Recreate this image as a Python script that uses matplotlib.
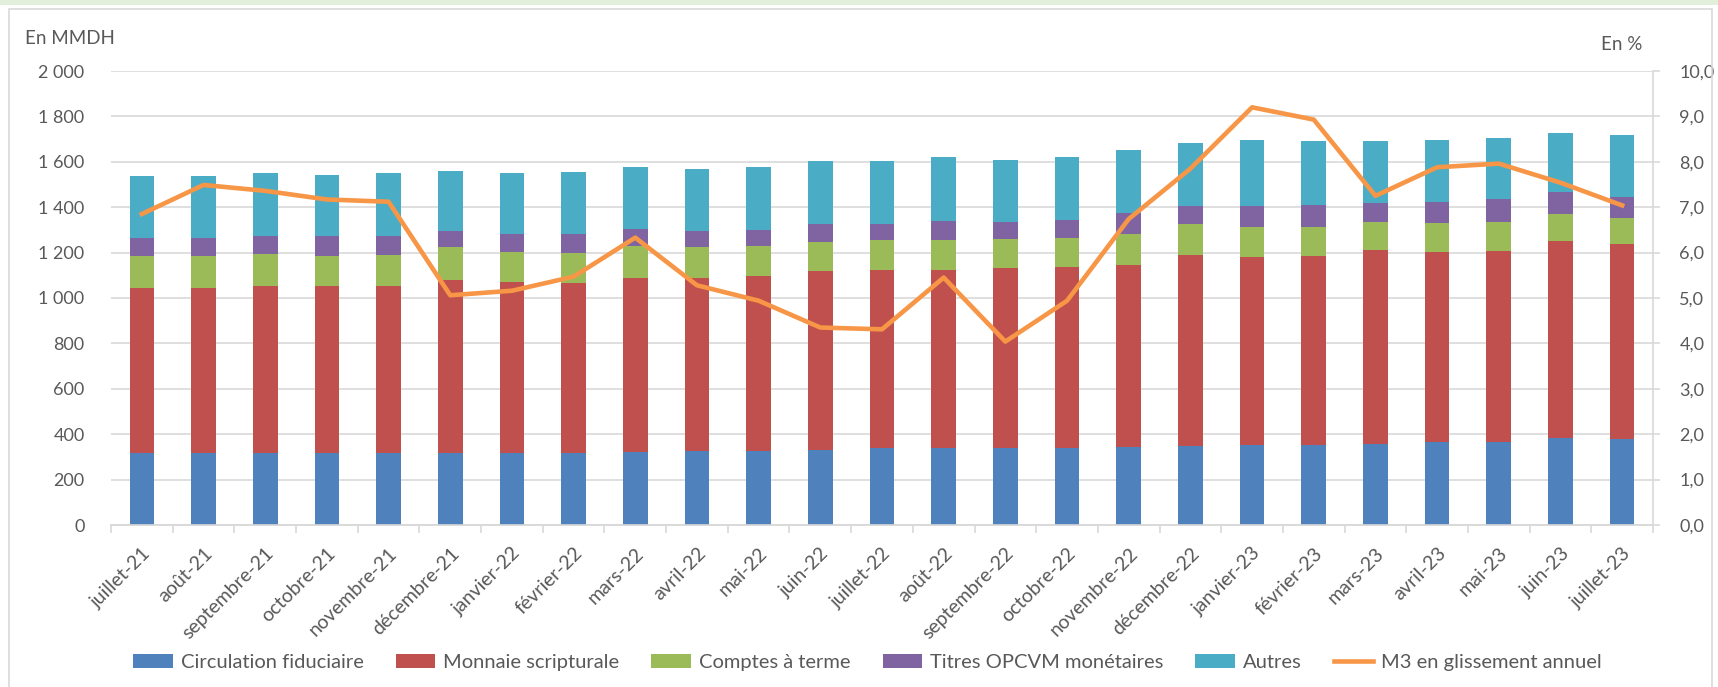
import matplotlib
matplotlib.use("Agg")
import matplotlib.pyplot as plt
from matplotlib.patches import Rectangle, Patch
from matplotlib.lines import Line2D
from matplotlib.ticker import FuncFormatter

plt.rcParams['font.family'] = ['Lato', 'DejaVu Sans']

months = ["juillet-21", "août-21", "septembre-21", "octobre-21", "novembre-21", "décembre-21",
          "janvier-22", "février-22", "mars-22", "avril-22", "mai-22", "juin-22", "juillet-22",
          "août-22", "septembre-22", "octobre-22", "novembre-22", "décembre-22", "janvier-23",
          "février-23", "mars-23", "avril-23", "mai-23", "juin-23", "juillet-23"]

circulation = [317, 317, 317, 317, 317, 317, 317, 317, 321, 326, 326, 330, 339, 339, 339, 339,
               343, 348, 352, 352, 357, 365, 365, 383, 378]
monnaie = [728, 728, 738, 734, 734, 763, 754, 751, 769, 764, 769, 788, 783, 783, 792, 797,
           802, 842, 829, 834, 853, 838, 843, 870, 860]
comptes = [138, 141, 139, 135, 139, 145, 132, 132, 141, 136, 136, 130, 135, 135, 130, 130,
           135, 137, 130, 125, 124, 127, 126, 117, 115]
opcvm = [80, 80, 80, 85, 84, 69, 79, 82, 73, 67, 68, 78, 69, 82, 73, 77,
         95, 80, 95, 99, 85, 93, 100, 96, 94]
autres = [276, 273, 278, 272, 278, 267, 270, 274, 274, 276, 279, 278, 278, 280, 275, 276,
          279, 275, 289, 281, 272, 272, 271, 261, 269]
m3_yoy = [6.85, 7.49, 7.36, 7.17, 7.12, 5.06, 5.16, 5.47, 6.33, 5.28, 4.94, 4.35, 4.31,
          5.45, 4.04, 4.94, 6.74, 7.85, 9.20, 8.93, 7.25, 7.88, 7.96, 7.54, 7.04]

series_names = ["Circulation fiduciaire", "Monnaie scripturale", "Comptes à terme",
                "Titres OPCVM monétaires", "Autres"]
line_name = "M3 en glissement annuel"
colors = ["#4F81BD", "#C0504D", "#9BBB59", "#8064A2", "#4BACC6"]
line_color = "#F79646"
text_color = "#595959"
grid_color = "#D9D9D9"

W, H = 1718, 687
fig = plt.figure(figsize=(W / 100, H / 100), dpi=100)

# decorative frame
fig.patches.append(Rectangle((0, 1 - 5 / H), 1, 5 / H, transform=fig.transFigure,
                             facecolor="#E2EFDA", edgecolor="none", zorder=0))
fig.patches.append(Rectangle((9 / W, -0.01), (1712 - 9) / W, 1 - 9 / H + 0.01,
                             transform=fig.transFigure, facecolor="none",
                             edgecolor=grid_color, linewidth=1.2, zorder=0))

left, right = 111 / W, 1653 / W
bottom, top = 1 - 525 / H, 1 - 71 / H
ax = fig.add_axes([left, bottom, right - left, top - bottom])
ax2 = ax.twinx()

x = list(range(len(months)))
bottoms = [0] * len(months)
for vals, col, name in zip([circulation, monnaie, comptes, opcvm, autres], colors, series_names):
    ax.bar(x, vals, width=0.4, bottom=bottoms, color=col, label=name, zorder=3)
    bottoms = [b + v for b, v in zip(bottoms, vals)]

ax2.plot(x, m3_yoy, color=line_color, linewidth=3.3, solid_joinstyle='round', zorder=5)

ax.set_xlim(-0.5, len(months) - 0.5)
ax.set_ylim(0, 2000)
ax.set_yticks(range(0, 2001, 200))
ax.yaxis.set_major_formatter(FuncFormatter(lambda v, p: f"{int(v):,}".replace(",", " ")))
ax2.set_ylim(0, 10)
ax2.set_yticks(range(0, 11))
ax2.yaxis.set_major_formatter(FuncFormatter(lambda v, p: f"{v:.1f}".replace(".", ",")))

ax.grid(axis='y', color=grid_color, linewidth=1.2, zorder=0)
ax.set_axisbelow(True)

for a in (ax, ax2):
    for s in ['top', 'left', 'right']:
        a.spines[s].set_visible(False)
    a.spines['bottom'].set_color(grid_color)
    a.spines['bottom'].set_linewidth(1.2)
ax2.spines['right'].set_visible(True)
ax2.spines['right'].set_color(grid_color)
ax2.spines['right'].set_linewidth(1.2)

ax.tick_params(axis='y', length=0, pad=19, labelsize=13, labelcolor=text_color)
ax2.tick_params(axis='y', length=5, width=1.2, color=grid_color, pad=14, labelsize=13,
                labelcolor=text_color)

ax.set_xticks(x)
ax.set_xticklabels(months, rotation=45, ha='right', va='top', rotation_mode='anchor',
                   fontsize=14, color=text_color)
ax.tick_params(axis='x', which='major', length=0, pad=14)
ax.set_xticks([i - 0.5 for i in range(len(months) + 1)], minor=True)
ax.tick_params(axis='x', which='minor', length=6, width=1.2, color=grid_color)

fig.text(25 / W, 1 - 38 / H, "En MMDH", fontsize=13.5, color=text_color, ha='left', va='center')
fig.text(1642 / W, 1 - 45 / H, "En %", fontsize=13.5, color=text_color, ha='right', va='center')

handles = [Patch(facecolor=c, edgecolor='none') for c in colors]
handles.append(Line2D([0], [0], color=line_color, linewidth=3.3))
fig.legend(handles, series_names + [line_name], loc='center', bbox_to_anchor=(0.505, 0.036),
           ncol=6, frameon=False, fontsize=14.5, labelcolor=text_color,
           handlelength=1.95, handleheight=0.7, handletextpad=0.4, columnspacing=1.6)

fig.savefig("out.png", dpi=100)
